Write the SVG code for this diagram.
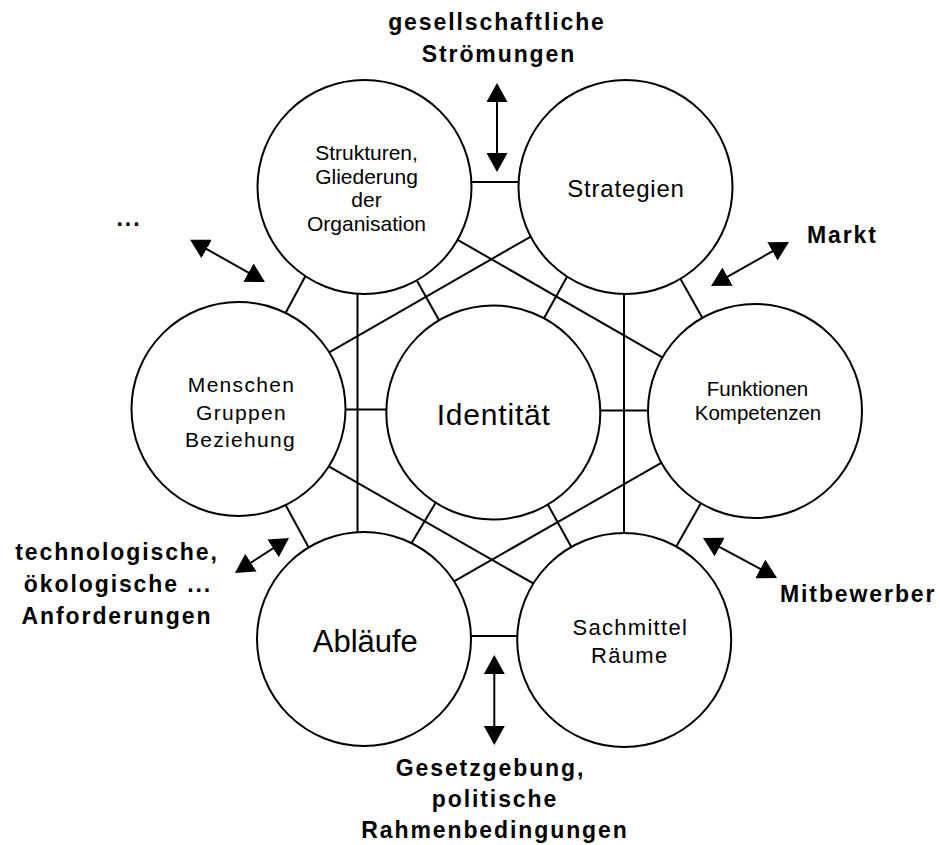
<svg xmlns="http://www.w3.org/2000/svg" width="940" height="845" viewBox="0 0 940 845">
<style>
.bg{fill:#fff}
.node circle{fill:#fff;stroke:#000;stroke-width:2}
.node text{font-family:"Liberation Sans",Arial,sans-serif;fill:#000;text-anchor:middle}
.con line{stroke:#000;stroke-width:2;fill:none}
.arr line{stroke:#000;stroke-width:2;fill:none;marker-start:url(#head);marker-end:url(#head)}
.lbl{font-family:"Liberation Sans",Arial,sans-serif;font-weight:bold;font-size:23px;letter-spacing:1.9px;fill:#000}
.mid{text-anchor:middle}
</style>
<defs>
<marker id="head" viewBox="0 0 19 21" refX="11" refY="10.5" markerWidth="19" markerHeight="21" markerUnits="userSpaceOnUse" orient="auto-start-reverse">
<path d="M0,0 L19,10.5 L0,21 Z" fill="#000"/>
</marker>
</defs>
<rect class="bg" x="0" y="0" width="940" height="845"/>
<g id="connectors" class="con">
<line x1="470" y1="182" x2="521" y2="182"/>
<line x1="680" y1="278" x2="703" y2="319"/>
<line x1="701" y1="503" x2="676" y2="547"/>
<line x1="470" y1="636" x2="521" y2="636"/>
<line x1="309" y1="548" x2="284.5" y2="503"/>
<line x1="285" y1="314" x2="306" y2="275"/>
<line x1="416" y1="279" x2="440" y2="322"/>
<line x1="568" y1="275" x2="543" y2="320"/>
<line x1="343" y1="409.5" x2="388" y2="409.5"/>
<line x1="598" y1="410.5" x2="650" y2="410.5"/>
<line x1="411" y1="544" x2="435.5" y2="503"/>
<line x1="547" y1="503" x2="573" y2="550"/>
<line x1="357.5" y1="290" x2="357.5" y2="535"/>
<line x1="624" y1="290" x2="624" y2="536"/>
<line x1="455" y1="238.3" x2="664" y2="358.3"/>
<line x1="533" y1="235.3" x2="327" y2="353.7"/>
<line x1="327" y1="465.3" x2="538" y2="586.2"/>
<line x1="663" y1="461.9" x2="454" y2="581.4"/>
</g>
<g id="n-strukturen" class="node">
<circle cx="364.5" cy="187" r="107"/>
<text font-size="21" x="366.5" y="160">Strukturen,</text>
<text font-size="21" x="366.5" y="184">Gliederung</text>
<text font-size="21" x="366.5" y="207">der</text>
<text font-size="21" x="366.5" y="231">Organisation</text>
</g>
<g id="n-strategien" class="node">
<circle cx="625.5" cy="187" r="107"/>
<text font-size="24" letter-spacing="0.8" x="626" y="197">Strategien</text>
</g>
<g id="n-menschen" class="node">
<circle cx="238.5" cy="409" r="107"/>
<text font-size="21" letter-spacing="1.3" x="241.5" y="392">Menschen</text>
<text font-size="21" letter-spacing="1.3" x="241.5" y="419.5">Gruppen</text>
<text font-size="21" letter-spacing="1.3" x="240.5" y="447">Beziehung</text>
</g>
<g id="n-identitaet" class="node">
<circle cx="493.3" cy="412.5" r="107"/>
<text font-size="30" letter-spacing="0.8" x="493.7" y="425">Identität</text>
</g>
<g id="n-funktionen" class="node">
<circle cx="755" cy="411" r="107"/>
<text font-size="20.5" x="757.5" y="396">Funktionen</text>
<text font-size="20.5" x="758" y="419.5">Kompetenzen</text>
</g>
<g id="n-ablaeufe" class="node">
<circle cx="364" cy="639" r="107"/>
<text font-size="31" x="365.3" y="652">Abläufe</text>
</g>
<g id="n-sachmittel" class="node">
<circle cx="624.2" cy="640" r="107"/>
<text font-size="22" letter-spacing="1.3" x="630.3" y="635">Sachmittel</text>
<text font-size="22" letter-spacing="1.3" x="629.8" y="663.3">Räume</text>
</g>
<g id="arrows" class="arr">
<line x1="497" y1="91" x2="497" y2="164"/>
<line x1="494.3" y1="663" x2="494.3" y2="737"/>
<line x1="718" y1="282.1" x2="782" y2="245.9"/>
<line x1="710" y1="541.8" x2="770" y2="574.2"/>
<line x1="241.7" y1="568.6" x2="282.3" y2="542.4"/>
<line x1="197" y1="243.6" x2="258" y2="278.1"/>
</g>
<g id="labels">
<text class="lbl mid" x="497" y="30">gesellschaftliche</text>
<text class="lbl mid" x="499" y="62">Strömungen</text>
<text class="lbl mid" x="129" y="226">...</text>
<text class="lbl" x="807" y="243">Markt</text>
<text class="lbl mid" x="117" y="560">technologische,</text>
<text class="lbl mid" x="118" y="592">ökologische ...</text>
<text class="lbl mid" x="117" y="624">Anforderungen</text>
<text class="lbl" x="780" y="602">Mitbewerber</text>
<text class="lbl mid" x="490.5" y="776">Gesetzgebung,</text>
<text class="lbl mid" x="495" y="807">politische</text>
<text class="lbl mid" x="495" y="838">Rahmenbedingungen</text>
</g>
</svg>
